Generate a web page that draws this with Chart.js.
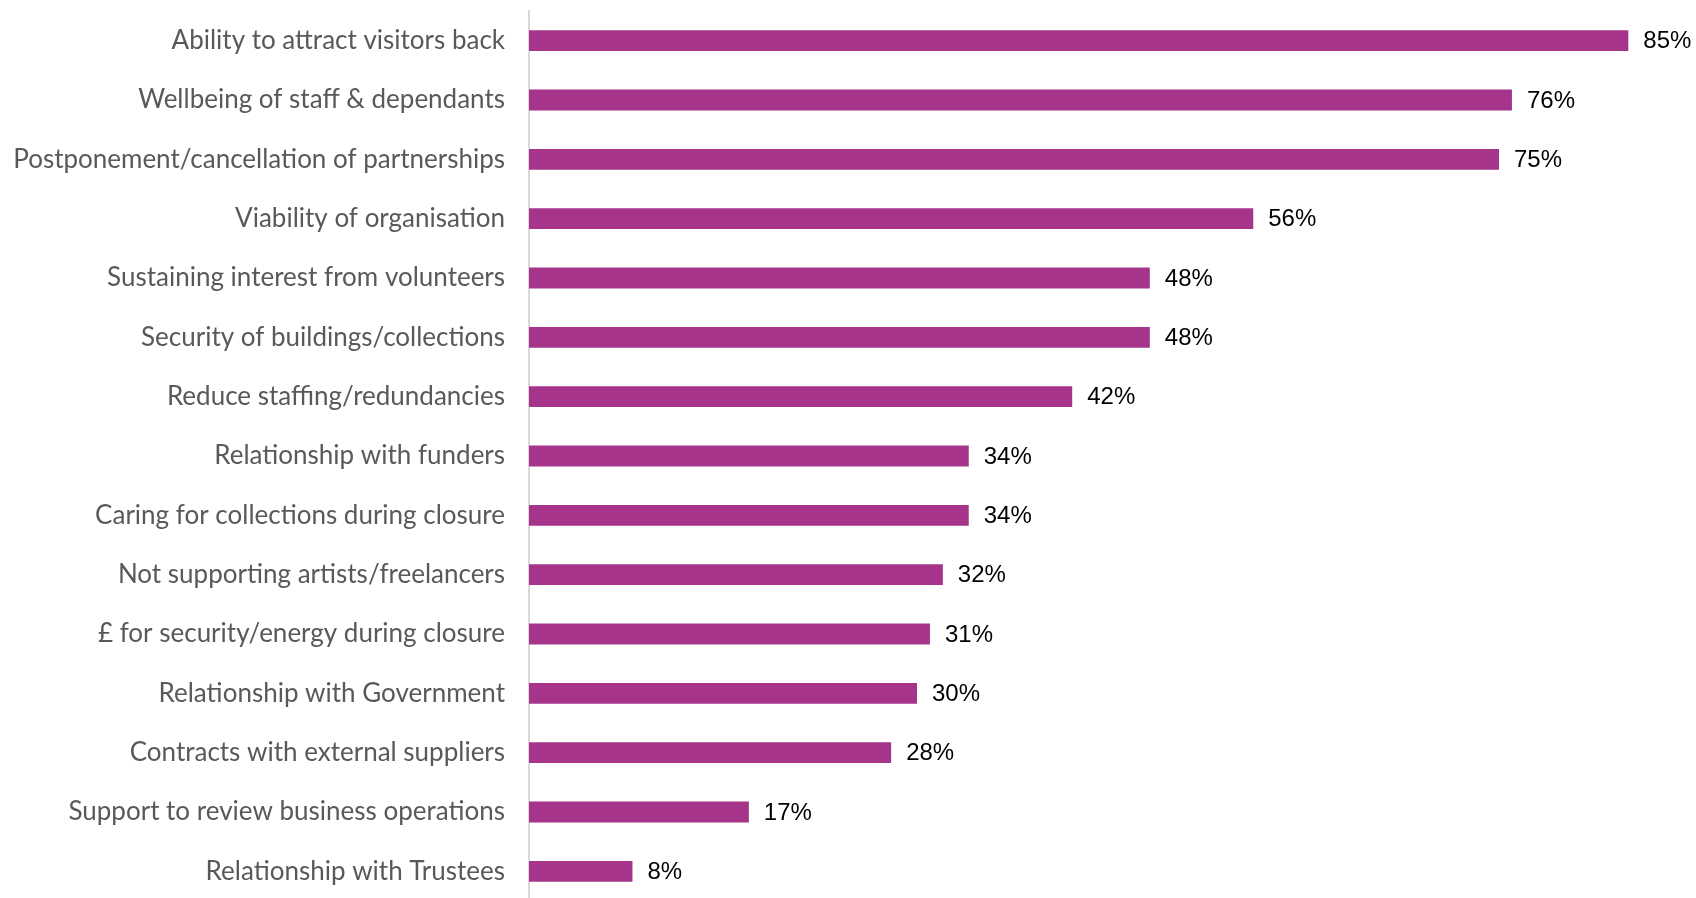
<!DOCTYPE html>
<html>
<head>
  <title>Concerns</title>
  <script src="https://cdn.jsdelivr.net/npm/chart.js"></script>
  <style>
    html, body {
      margin: 0;
      padding: 0;
      background: #fff;
      overflow: hidden;
    }
    #chartContainer {
      width: 1696px;
      height: 901px;
    }
  </style>
</head>
<body>
  <div id="chartContainer">
    <canvas id="myChart"></canvas>
  </div>

  <script>
    const categories = [
      'Ability to attract visitors back',
      'Wellbeing of staff & dependants',
      'Postponement/cancellation of partnerships',
      'Viability of organisation',
      'Sustaining interest from volunteers',
      'Security of buildings/collections',
      'Reduce staffing/redundancies',
      'Relationship with funders',
      'Caring for collections during closure',
      'Not supporting artists/freelancers',
      '\u00a3 for security/energy during closure',
      'Relationship with Government',
      'Contracts with external suppliers',
      'Support to review business operations',
      'Relationship with Trustees'
    ];
    const values = [85, 76, 75, 56, 48, 48, 42, 34, 34, 32, 31, 30, 28, 17, 8];
    const valueLabels = values.map(v => v + '%');

    // draws the "85%" style labels to the right of each bar
    const barLabels = {
      id: 'barLabels',
      afterDatasetsDraw(chart) {
        const ctx = chart.ctx;
        const meta = chart.getDatasetMeta(0);
        ctx.save();
        ctx.font = '24px "Liberation Sans", Arial, sans-serif';
        ctx.fillStyle = '#000';
        ctx.textAlign = 'left';
        ctx.textBaseline = 'middle';
        meta.data.forEach((bar, i) => {
          ctx.fillText(valueLabels[i], bar.x + 15, bar.y + 1);
        });
        ctx.restore();
      }
    };

    const ctx = document.getElementById('myChart').getContext('2d');
    new Chart(ctx, {
      type: 'bar',
      data: {
        labels: categories,
        datasets: [{
          data: values,
          backgroundColor: '#A5348A',
          borderWidth: 0,
          categoryPercentage: 1,
          barPercentage: 0.35
        }]
      },
      options: {
        indexAxis: 'y',
        responsive: true,
        maintainAspectRatio: false,
        animation: false,
        layout: {
          padding: { left: 0, right: 3, top: 11, bottom: 0 }
        },
        scales: {
          x: {
            display: false,
            min: 0,
            max: 90
          },
          y: {
            afterFit(scale) {
              scale.width = 529;
              scale.paddingTop = 0;
              scale.paddingBottom = 0;
            },
            grid: { display: false, drawTicks: false },
            border: { display: true, color: '#D9D9D9', width: 2 },
            ticks: {
              padding: 24,
              color: '#595959',
              font: { family: 'Lato', size: 26 }
            }
          }
        },
        plugins: {
          legend: { display: false },
          tooltip: { enabled: false }
        }
      },
      plugins: [barLabels]
    });
  </script>
</body>
</html>
